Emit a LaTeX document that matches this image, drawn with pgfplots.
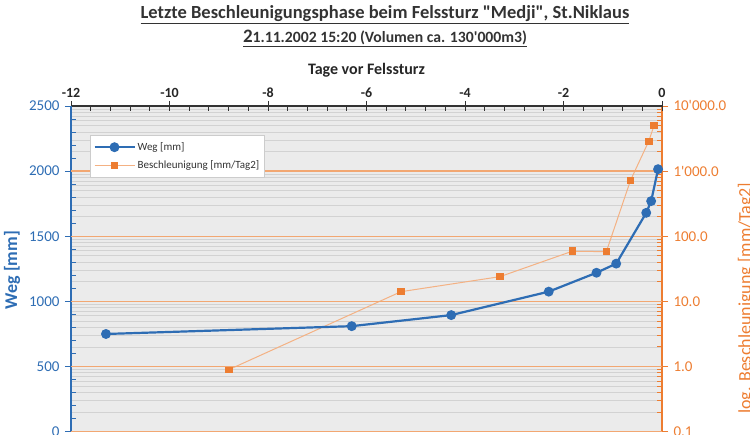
\documentclass[border=0pt]{standalone}
\usepackage{fontspec}
\setmainfont{Carlito}[Ligatures=TeXOff]
\usepackage{pgfplots}
\pgfplotsset{compat=1.18}
\definecolor{wegblue}{HTML}{2E6DB4}
\definecolor{borange}{HTML}{ED7D31}
\definecolor{borangelight}{HTML}{F4B183}
\definecolor{gridorange}{HTML}{F2A772}
\definecolor{plotbg}{HTML}{EBEBEB}
\definecolor{minorgrid}{HTML}{D2D2D2}
\begin{document}
\begin{tikzpicture}[x=1pt,y=1pt]
% ---------- right (log) axis ----------
\begin{axis}[
  at={(0pt,0pt)}, anchor=south west,
  scale only axis, width=591pt, height=325.7pt,
  xmin=-12, xmax=0,
  ymode=log, ymin=0.1, ymax=10000,
  axis x line=none,
  axis y line*=right,
  axis background/.style={fill=plotbg},
  y axis line style={borange, line width=1.2pt, -},
  ytick={0.1,1,10,100,1000,10000},
  yticklabels={0.1,1.0,10.0,100.0,1'000.0,10'000.0},
  yticklabel style={text=borange, font=\fontsize{15}{17}\selectfont, xshift=8pt},
  ymajorgrids=false, yminorgrids,
  minor grid style={minorgrid, line width=0.8pt},
  tick align=inside,
  major tick length=5pt, minor tick length=5pt,
  every tick/.style={borange, line width=0.9pt},
  extra y ticks={0.1,1,10,100,1000,10000},
  extra y tick labels={},
  extra y tick style={tick align=outside, major tick length=6pt, grid=none},
  ylabel={log. Beschleunigung [mm/Tag2]},
  every axis y label/.style={at={(axis description cs:1,0.41)}, xshift=84pt, rotate=90, anchor=center, text=borange, font=\fontsize{18}{20}\selectfont},
  clip=false,
]
\addplot[borangelight, line width=1pt, mark=square*, mark size=3.3pt,
  mark options={fill=borange, draw=borange, line width=0pt}]
  coordinates {(-8.79,0.9) (-5.30,14.1) (-3.29,24) (-1.82,59) (-1.13,58) (-0.64,720) (-0.27,2870) (-0.16,5050)};
\end{axis}
% ---------- left (linear) axis with top x axis ----------
\begin{axis}[
  at={(0pt,0pt)}, anchor=south west,
  scale only axis, width=591pt, height=325.7pt,
  xmin=-12, xmax=0, ymin=0, ymax=2500,
  axis x line*=top,
  axis y line*=left,
  x axis line style={black!80, line width=1.2pt, -},
  y axis line style={wegblue, line width=1.5pt, -},
  xtick={-12,-10,-8,-6,-4,-2,0},
  xticklabels={-12,-10,-8,-6,-4,-2,0},
  minor x tick num=4,
  ytick={0,500,1000,1500,2000,2500},
  yticklabels={0,500,1000,1500,2000,2500},
  minor y tick num=4,
  tick align=inside,
  major tick length=5pt, minor tick length=5pt,
  every tick/.style={line width=0.9pt},
  x tick style={black!80},
  y tick style={wegblue},
  extra x ticks={-12,-10,-8,-6,-4,-2,0},
  extra x tick labels={},
  extra x tick style={tick align=outside, major tick length=5pt},
  extra y ticks={0,500,1000,1500,2000,2500},
  extra y tick labels={},
  extra y tick style={tick align=outside, major tick length=6pt},
  xticklabel style={text=black!85, font=\bfseries\fontsize{14}{16}\selectfont, yshift=5pt},
  yticklabel style={text=wegblue, font=\fontsize{15}{17}\selectfont, xshift=-8pt},
  xlabel={Tage vor Felssturz},
  every axis x label/.style={at={(axis description cs:0.5,1)}, yshift=36pt, anchor=center, text=black!85, font=\bfseries\fontsize{16}{18}\selectfont},
  ylabel={Weg [mm]},
  every axis y label/.style={at={(axis description cs:0,0.496)}, xshift=-59pt, rotate=90, anchor=center, text=wegblue, font=\bfseries\fontsize{18}{20}\selectfont},
  legend style={at={(0.032,0.911)}, anchor=north west, draw=black!20, line width=1pt, fill=white,
    font=\fontsize{11}{13}\selectfont, row sep=5pt, inner xsep=3pt, inner ysep=5pt, text=black!80},
  legend cell align=left,
  legend image code/.code={\draw[mark repeat=2, mark phase=2, #1] plot coordinates {(0pt,0pt) (20pt,0pt) (40pt,0pt)};},
  clip=false,
]
\pgfplotsinvokeforeach{0,500,1000,1500,2000}{
  \fill[gridorange] ([yshift=-0.75pt]axis cs:-12,#1) rectangle ([yshift=0.75pt]axis cs:0,#1);
}
\addplot[wegblue, line width=2.2pt, mark=*, mark size=3.8pt, mark options={fill=wegblue, draw=wegblue}]
  coordinates {(-11.29,750) (-6.30,810) (-4.28,895) (-2.30,1075) (-1.33,1220) (-0.93,1290) (-0.32,1680) (-0.22,1770) (-0.08,2015)};
\addlegendentry{Weg [mm]}
\addlegendimage{borangelight, line width=1pt, mark=square*, mark size=3.3pt, mark options={fill=borange, draw=borange, line width=0pt}}
\addlegendentry{Beschleunigung [mm/Tag2]}
\end{axis}
% titles
\node[font=\bfseries\fontsize{18.5}{20}\selectfont, text=black!80] at (314pt,416.7pt)
  {\underline{Letzte Beschleunigungsphase beim Felssturz "Medji", St.Niklaus}};
\node[font=\bfseries\fontsize{15.7}{17}\selectfont, text=black!80] at (314pt,393.7pt)
  {\underline{{\fontsize{19}{19}\selectfont 2}1.11.2002 15:20 (Volumen ca. 130'000m3)}};
\pgfresetboundingbox
\useasboundingbox (-71pt,-3.3pt) rectangle (679pt,431.7pt);
\end{tikzpicture}
\end{document}
